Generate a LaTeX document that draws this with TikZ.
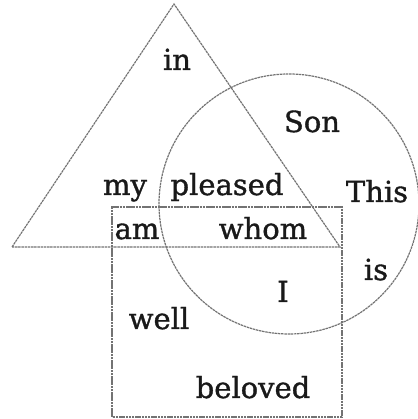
\documentclass[tikz,border=0pt]{standalone}
\usepackage{fontspec}
\setmainfont{DejaVu Serif}[FakeBold=1.2]

\begin{document}
\begin{tikzpicture}[x=1pt, y=1pt,
    outline/.style={black!55, line width=1.2pt, dash pattern=on 2.5pt off 0.7pt},
    word/.style={anchor=base, inner sep=0pt, font=\fontsize{29}{31}\selectfont, text=black!90}]
  \useasboundingbox (0,0) rectangle (417,419);
  % the three outlines: triangle, circle, square
  \draw[outline] (12,172) -- (174,415) -- (340,172) -- cycle;
  \draw[outline] (289,215) circle (130);
  \draw[outline] (112,2) rectangle (342,212);
  % the words, placed on their baselines
  \node[word] (in) at (177,349) {in};
  \node[word] (son) at (312,287) {Son};
  \node[word] (my) at (125,224) {my};
  \node[word] (pleased) at (227,224) {pleased};
  \node[word] (this) at (377,217) {This};
  \node[word] (am) at (137,180) {am};
  \node[word] (whom) at (263,180) {whom};
  \node[word] (is) at (376,139) {is};
  \node[word] (i) at (283,117) {I};
  \node[word] (well) at (159,90) {well};
  \node[word] (beloved) at (253,21) {beloved};
\end{tikzpicture}
\end{document}
